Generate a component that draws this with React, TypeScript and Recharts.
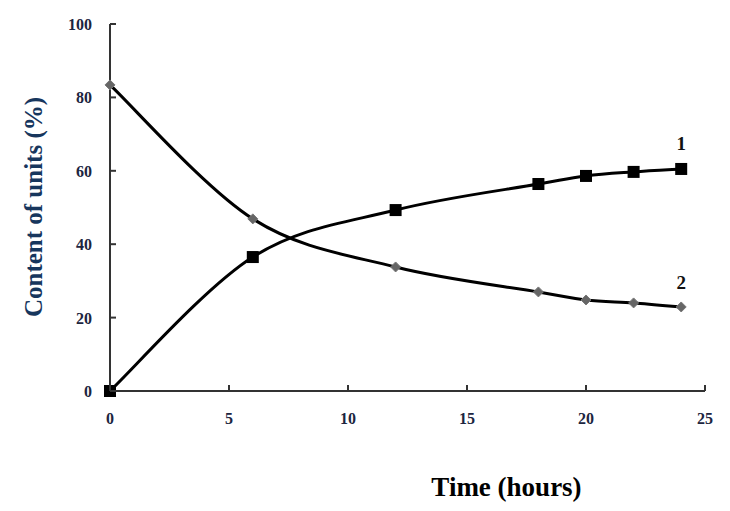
import React from 'react';
import { LineChart, Line, XAxis, YAxis, Label } from 'recharts';

const hours = [0, 6, 12, 18, 20, 22, 24];
const series1 = [0, 36.5, 49.3, 56.4, 58.6, 59.7, 60.5];
const series2 = [83.4, 46.9, 33.8, 27.0, 24.8, 24.0, 22.9];
const xTicks = [0, 5, 10, 15, 20, 25];
const yTicks = [0, 20, 40, 60, 80, 100];
const seriesNames = ['1', '2'];
const xTitle = 'Time (hours)';
const yTitle = 'Content of units (%)';

const data = hours.map((h, i) => ({ h, s1: series1[i], s2: series2[i] }));

const FONT = '"Liberation Serif", "Times New Roman", serif';
const TICK_COLOR = '#1c2540';
const AXIS_COLOR = '#333';

// Catmull-Rom style smoothing (similar to spreadsheet "smoothed line")
const smoothCurve: any = (context: any) => {
  let pts: number[][] = [];
  return {
    areaStart() {},
    areaEnd() {},
    lineStart() {
      pts = [];
    },
    point(x: number, y: number) {
      pts.push([+x, +y]);
    },
    lineEnd() {
      if (!pts.length) return;
      context.moveTo(pts[0][0], pts[0][1]);
      for (let i = 0; i < pts.length - 1; i++) {
        const p0 = pts[i - 1] || pts[i];
        const p1 = pts[i];
        const p2 = pts[i + 1];
        const p3 = pts[i + 2] || pts[i + 1];
        const c1x = p1[0] + (p2[0] - p0[0]) / 6;
        const c1y = p1[1] + (p2[1] - p0[1]) / 6;
        const c2x = p2[0] - (p3[0] - p1[0]) / 6;
        const c2y = p2[1] - (p3[1] - p1[1]) / 6;
        context.bezierCurveTo(c1x, c1y, c2x, c2y, p2[0], p2[1]);
      }
    },
  };
};

const XTick = (props: any) => {
  const { x, y, payload } = props;
  return (
    <g>
      <line x1={x} x2={x} y1={y} y2={y - 6} stroke={AXIS_COLOR} strokeWidth={2} />
      <text x={x} y={y + 33} textAnchor="middle" fontFamily={FONT} fontWeight="bold" fontSize={16} fill={TICK_COLOR}>
        {payload.value}
      </text>
    </g>
  );
};

const YTick = (props: any) => {
  const { x, y, payload } = props;
  return (
    <g>
      <line x1={x} x2={x + 6} y1={y} y2={y} stroke={AXIS_COLOR} strokeWidth={2} />
      <text x={x - 18} y={y + 6} textAnchor="end" fontFamily={FONT} fontWeight="bold" fontSize={16} fill={TICK_COLOR}>
        {payload.value}
      </text>
    </g>
  );
};

const SquareDot = (props: any) => {
  const { cx, cy, index } = props;
  if (cx == null || cy == null) return <g key={index} />;
  return <rect key={index} x={cx - 6} y={cy - 6} width={12} height={12} fill="#000" />;
};

const DiamondDot = (props: any) => {
  const { cx, cy, index } = props;
  if (cx == null || cy == null) return <g key={index} />;
  const r = 5;
  return (
    <polygon
      key={index}
      points={`${cx},${cy - r} ${cx + r},${cy} ${cx},${cy + r} ${cx - r},${cy}`}
      fill="#666"
      stroke="#777"
      strokeWidth={1}
    />
  );
};

const makeEndLabel = (name: string, dy: number) => (props: any) => {
  const { x, y, index } = props;
  if (index !== hours.length - 1) return null;
  return (
    <text x={x} y={y + dy} textAnchor="middle" fontFamily={FONT} fontWeight="bold" fontSize={19} fill="#111">
      {name}
    </text>
  );
};

export default function App() {
  return (
    <div style={{ position: 'absolute', left: 0, top: 0, background: '#fff' }}>
      <LineChart width={730} height={511} data={data} margin={{ top: 24, right: 25, bottom: 80, left: 50 }}>
        <XAxis
          dataKey="h"
          type="number"
          domain={[0, 25]}
          ticks={xTicks}
          tickSize={0}
          tickMargin={0}
          tickLine={false}
          axisLine={{ stroke: AXIS_COLOR, strokeWidth: 2 }}
          tick={<XTick />}
          height={40}
          interval={0}
        >
          <Label
            content={(p: any) => {
              const vb = p.viewBox;
              return (
                <text
                  x={vb.x + vb.width / 2 + 99}
                  y={vb.y + 105}
                  textAnchor="middle"
                  fontFamily={FONT}
                  fontWeight="bold"
                  fontSize={27}
                  fill="#000"
                >
                  {xTitle}
                </text>
              );
            }}
          />
        </XAxis>
        <YAxis
          type="number"
          domain={[0, 100]}
          ticks={yTicks}
          tickSize={0}
          tickMargin={0}
          tickLine={false}
          axisLine={{ stroke: AXIS_COLOR, strokeWidth: 2 }}
          tick={<YTick />}
          width={60}
          interval={0}
        >
          <Label
            content={(p: any) => {
              const vb = p.viewBox;
              const cx = vb.x - 17;
              const cy = vb.y + 183;
              return (
                <text
                  x={cx}
                  y={cy}
                  transform={`rotate(-90 ${cx} ${cy})`}
                  textAnchor="middle"
                  dominantBaseline="central"
                  fontFamily={FONT}
                  fontWeight="bold"
                  fontSize={25}
                  fill="#17365d"
                >
                  {yTitle}
                </text>
              );
            }}
          />
        </YAxis>
        <Line
          type={smoothCurve}
          dataKey="s2"
          stroke="#000"
          strokeWidth={3}
          dot={<DiamondDot />}
          isAnimationActive={false}
          label={makeEndLabel(seriesNames[1], -18)}
        />
        <Line
          type={smoothCurve}
          dataKey="s1"
          stroke="#000"
          strokeWidth={3}
          dot={<SquareDot />}
          isAnimationActive={false}
          label={makeEndLabel(seriesNames[0], -19)}
        />
      </LineChart>
    </div>
  );
}
